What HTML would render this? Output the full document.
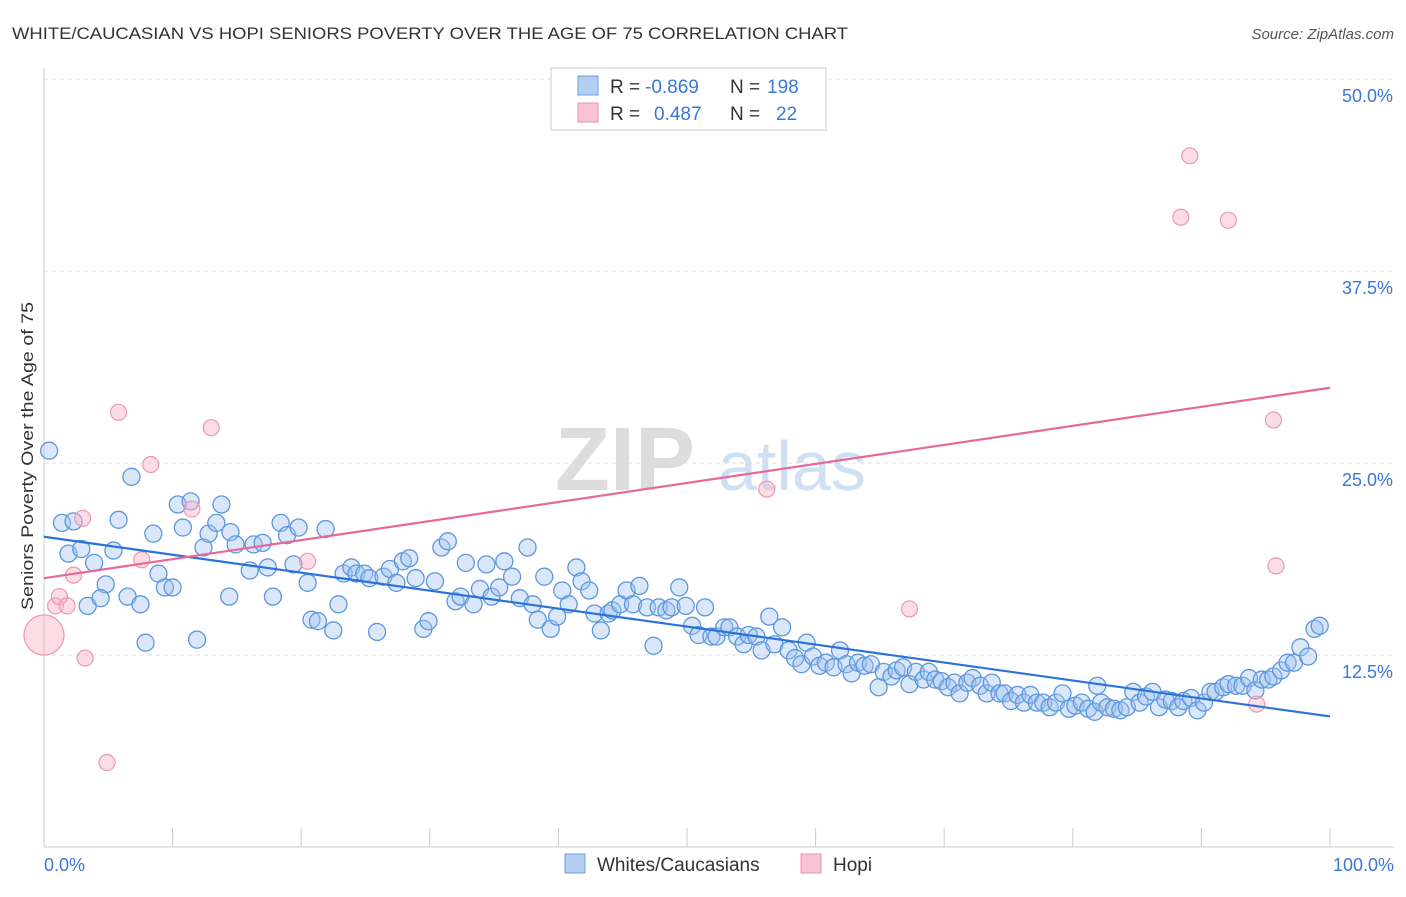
<!DOCTYPE html>
<html><head><meta charset="utf-8"><style>
body{margin:0;background:#fff;font-family:"Liberation Sans",sans-serif}
svg text{font-family:"Liberation Sans",sans-serif}
</style></head><body>
<svg id="chart" width="1406" height="892" xmlns="http://www.w3.org/2000/svg">
<text x="12" y="39" font-size="17" fill="#333" textLength="836" lengthAdjust="spacingAndGlyphs">WHITE/CAUCASIAN VS HOPI SENIORS POVERTY OVER THE AGE OF 75 CORRELATION CHART</text>
<text x="1394" y="39" font-size="15" fill="#555" font-style="italic" text-anchor="end">Source: ZipAtlas.com</text>
<g>
<text x="555" y="490" font-size="90" fill="#ddd" font-family="Liberation Serif" font-weight="bold">ZIP</text>
<text x="718" y="490" font-size="70" fill="#cfe0f3">atlas</text>
</g>
<g id="grid"></g>
<g id="axes"></g>
<g id="marks"></g>
<g id="trends"></g>
<text transform="translate(33,456) rotate(-90)" font-size="17" fill="#333" text-anchor="middle" textLength="308" lengthAdjust="spacingAndGlyphs">Seniors Poverty Over the Age of 75</text>
<g>
<rect x="551" y="68" width="275" height="62" fill="#fff" stroke="#ccc"/>
<rect x="578" y="76" width="20" height="19" fill="#b4cff2" stroke="#6a9fe0"/>
<rect x="578" y="103" width="20" height="19" fill="#f9c3d3" stroke="#eb90ad"/>
<text x="610" y="93" font-size="19" fill="#333">R =</text>
<text x="645" y="93" font-size="19" fill="#3a78d6">-0.869</text>
<text x="730" y="93" font-size="19" fill="#333">N =</text>
<text x="767" y="93" font-size="19" fill="#3a78d6">198</text>
<text x="610" y="120" font-size="19" fill="#333">R =</text>
<text x="654" y="120" font-size="19" fill="#3a78d6">0.487</text>
<text x="730" y="120" font-size="19" fill="#333">N =</text>
<text x="776" y="120" font-size="19" fill="#3a78d6">22</text>
</g>
<g>
<rect x="565" y="854" width="20" height="19" fill="#b4cff2" stroke="#6a9fe0"/>
<text x="597" y="871" font-size="19" fill="#333">Whites/Caucasians</text>
<rect x="801" y="854" width="20" height="19" fill="#f9c3d3" stroke="#eb90ad"/>
<text x="833" y="871" font-size="19" fill="#333">Hopi</text>
</g>
</svg>
<script>
const yTicks=[12.5,25,37.5,50];
const yTickLabels=["12.5%","25.0%","37.5%","50.0%"];
const xTickLabels=["0.0%","100.0%"];
const blueX=[0.4,1.4,2.3,1.9,2.9,3.9,3.4,4.8,4.4,5.4,5.8,6.8,6.5,7.5,7.9,8.5,8.9,9.4,10.0,10.4,10.8,11.4,11.9,12.4,12.8,13.4,13.8,14.5,14.9,14.4,16.0,16.3,17.0,17.4,17.8,18.4,18.9,19.4,19.8,20.5,20.8,21.3,21.9,22.5,22.9,23.3,23.9,24.3,24.9,25.3,25.9,26.4,26.9,27.4,27.9,28.4,28.9,29.5,29.9,30.4,30.9,31.4,32.0,32.4,32.8,33.4,33.9,34.4,34.8,35.4,35.8,36.4,37.0,37.6,38.0,38.4,38.9,39.4,39.9,40.3,40.8,41.4,41.8,42.4,42.8,43.3,43.9,44.2,44.8,45.3,45.8,46.3,46.9,47.4,47.8,48.4,48.8,49.4,49.9,50.4,50.9,51.4,51.9,52.3,52.9,53.3,53.9,54.4,54.8,55.4,55.8,56.4,56.8,57.4,57.9,58.4,58.9,59.3,59.8,60.3,60.8,61.4,61.9,62.4,62.8,63.3,63.8,64.3,64.9,65.3,65.9,66.3,66.8,67.3,67.8,68.4,68.8,69.3,69.8,70.3,70.8,71.2,71.8,72.2,72.8,73.3,73.7,74.3,74.7,75.2,75.7,76.2,76.7,77.2,77.7,78.2,78.7,79.2,79.7,80.2,80.7,81.2,81.7,82.2,81.9,82.7,83.2,83.7,84.2,84.7,85.2,85.7,86.2,86.7,87.2,87.7,88.2,88.6,89.2,89.7,90.2,90.7,91.1,91.7,92.1,92.7,93.2,93.7,94.2,94.7,95.2,95.6,96.2,96.7,97.2,97.7,98.3,98.8,99.2];
const blueY=[25.8,21.1,21.2,19.1,19.4,18.5,15.7,17.1,16.2,19.3,21.3,24.1,16.3,15.8,13.3,20.4,17.8,16.9,16.9,22.3,20.8,22.5,13.5,19.5,20.4,21.1,22.3,20.5,19.7,16.3,18.0,19.7,19.8,18.2,16.3,21.1,20.3,18.4,20.8,17.2,14.8,14.7,20.7,14.1,15.8,17.8,18.2,17.8,17.8,17.5,14.0,17.6,18.1,17.2,18.6,18.8,17.5,14.2,14.7,17.3,19.5,19.9,16.0,16.3,18.5,15.8,16.8,18.4,16.3,16.9,18.6,17.6,16.2,19.5,15.8,14.8,17.6,14.2,15.0,16.7,15.8,18.2,17.3,16.7,15.2,14.1,15.2,15.4,15.8,16.7,15.8,17.0,15.6,13.1,15.6,15.4,15.6,16.9,15.7,14.4,13.8,15.6,13.7,13.7,14.3,14.3,13.7,13.2,13.8,13.7,12.8,15.0,13.2,14.3,12.8,12.3,11.9,13.3,12.4,11.8,12.0,11.7,12.8,11.9,11.3,12.0,11.8,11.9,10.4,11.4,11.1,11.5,11.7,10.6,11.4,10.9,11.4,10.9,10.8,10.4,10.7,10.0,10.7,11.0,10.5,10.0,10.7,10.0,10.0,9.5,9.9,9.4,9.9,9.4,9.4,9.1,9.4,10.0,9.0,9.2,9.4,9.0,8.8,9.4,10.5,9.1,9.0,8.9,9.1,10.1,9.4,9.8,10.1,9.1,9.6,9.5,9.1,9.5,9.7,8.9,9.4,10.1,10.1,10.4,10.6,10.5,10.5,11.0,10.2,10.9,10.9,11.1,11.5,12.0,12.0,13.0,12.4,14.2,14.4];
const pinkX=[0,0.9,1.2,1.8,2.3,3.0,3.2,4.9,5.8,7.6,8.3,11.5,13.0,20.5,56.2,67.3,88.4,89.1,92.1,94.3,95.6,95.8];
const pinkY=[13.8,15.7,16.3,15.7,17.7,21.4,12.3,5.5,28.3,18.7,24.9,22.0,27.3,18.6,23.3,15.5,41.0,45.0,40.8,9.3,27.8,18.3];
const blueTrend=[20.2,8.5];
const pinkTrend=[17.5,29.9];
const X0=44,X1=1330,Y0=847,YT=79;
const sx=v=>X0+(X1-X0)*v/100;
const sy=v=>Y0-(Y0-YT)*v/50;
const NS="http://www.w3.org/2000/svg";
function mk(tag,attrs,parent){const e=document.createElementNS(NS,tag);for(const k in attrs)e.setAttribute(k,attrs[k]);parent.appendChild(e);return e;}
const grid=document.getElementById('grid'),axes=document.getElementById('axes'),marks=document.getElementById('marks'),trends=document.getElementById('trends');
yTicks.forEach((t,i)=>{
 const l=mk('line',{x1:X0,x2:1394,y1:sy(t),y2:sy(t),stroke:'#ddd','stroke-dasharray':'4,4'},grid);
 
 
 const tx=mk('text',{x:1393,y:sy(t)+23,'font-size':18,fill:'#3a78d6','text-anchor':'end'},axes);
 tx.textContent=yTickLabels[i];
 
 
});
mk('line',{x1:X0,x2:X0,y1:68,y2:Y0,stroke:'#ccc'},axes);
mk('line',{x1:X0,x2:1394,y1:Y0,y2:Y0,stroke:'#ccc'},axes);
for(let i=0;i<=10;i++){const x=sx(i*10);mk('line',{x1:x,x2:x,y1:828,y2:Y0,stroke:'#ccc'},axes);}
[[0,'start',44],[100,'end',1394]].forEach((d,i)=>{
 const tx=mk('text',{x:d[2],y:871,'font-size':18,fill:'#3a78d6','text-anchor':d[1]},axes);
 tx.textContent=xTickLabels[i];
 
 
});
blueX.forEach((x,i)=>{
 const c=mk('circle',{cx:sx(x),cy:sy(blueY[i]),r:8.5,fill:'rgba(160,195,240,0.4)',stroke:'#5d97de','stroke-width':1.3},marks);
 
 
});
pinkX.forEach((x,i)=>{
 const c=mk('circle',{cx:sx(x),cy:sy(pinkY[i]),r:i===0?20:8,fill:'rgba(248,180,200,0.45)',stroke:'#eb98b3','stroke-width':1.2},marks);
 
 
});
const bl=mk('line',{x1:sx(0),y1:sy(blueTrend[0]),x2:sx(100),y2:sy(blueTrend[1]),stroke:'#2a72d8','stroke-width':2.2},trends);


const pl=mk('line',{x1:sx(0),y1:sy(pinkTrend[0]),x2:sx(100),y2:sy(pinkTrend[1]),stroke:'#e5699a','stroke-width':2.2},trends);


</script>
</body></html>
